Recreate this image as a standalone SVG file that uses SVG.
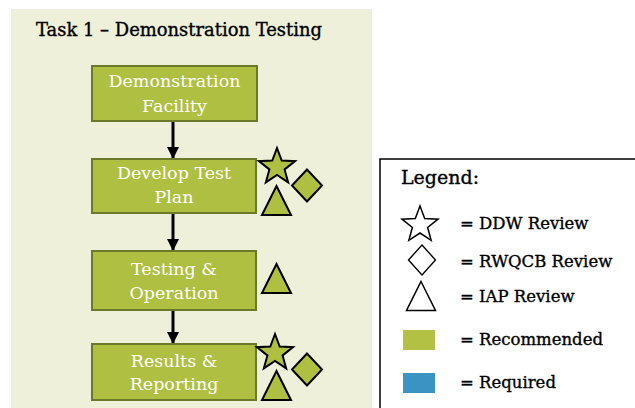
<svg xmlns="http://www.w3.org/2000/svg" width="635" height="408" viewBox="0 0 635 408">
  <style>
    .panel { fill: #EEF0DA; }
    .step rect { fill: #AFBF42; stroke: #6A7A2A; stroke-width: 2; }
    .step text { fill: #FFFFFF; font-family: "DejaVu Serif", "Liberation Serif", serif; font-size: 17.5px; text-anchor: middle; }
    .mark { fill: #AFBF42; stroke: #000000; stroke-width: 2; stroke-linejoin: miter; }
    .key { fill: #FFFFFF; stroke: #000000; stroke-width: 1.5; }
    .title { font-family: "DejaVu Serif", "Liberation Serif", serif; font-size: 18px; fill: #000000; stroke: #000000; stroke-width: 0.35; }
    .legend text { font-family: "DejaVu Serif", "Liberation Serif", serif; font-size: 16.5px; fill: #000000; stroke: #000000; stroke-width: 0.35; }
    .legend text.head { font-size: 19px; }
    .flow line { stroke: #000000; stroke-width: 3; }
  </style>
  <defs>
    <path id="star" d="M0,-19 L4.70,-6.47 L18.07,-5.87 L7.61,2.47 L11.17,15.37 L0,8 L-11.17,15.37 L-7.61,2.47 L-18.07,-5.87 L-4.70,-6.47 Z"/>
    <path id="diamond" d="M0,-16 L15,0 L0,16 L-15,0 Z"/>
    <path id="triangle" d="M0,-14.5 L14.5,14.5 L-14.5,14.5 Z"/>
    <marker id="arrow" viewBox="0 0 10 10" refX="10" refY="5" markerWidth="4" markerHeight="4" orient="auto" markerUnits="strokeWidth">
      <path d="M0,0 L10,5 L0,10 Z" fill="#000000"/>
    </marker>
  </defs>

  <!-- task panel -->
  <rect class="panel" x="11" y="9" width="361" height="400"/>
  <text class="title" x="36" y="36" textLength="286" lengthAdjust="spacingAndGlyphs">Task 1 – Demonstration Testing</text>

  <!-- connectors between steps -->
  <g id="connectors" class="flow">
    <line x1="173" y1="122" x2="173" y2="159" marker-end="url(#arrow)"/>
    <line x1="173" y1="213" x2="173" y2="251" marker-end="url(#arrow)"/>
    <line x1="173" y1="310" x2="173" y2="344" marker-end="url(#arrow)"/>
  </g>

  <!-- process steps -->
  <g id="step-facility" class="step">
    <rect x="92" y="66" width="165" height="55"/>
    <text x="174.5" y="87">Demonstration</text>
    <text x="174.5" y="112">Facility</text>
  </g>
  <g id="step-test-plan" class="step">
    <rect x="92" y="159" width="164" height="54"/>
    <text x="174" y="179">Develop Test</text>
    <text x="174" y="203">Plan</text>
  </g>
  <g id="step-operation" class="step">
    <rect x="92" y="251" width="164" height="59"/>
    <text x="174" y="275">Testing &amp;</text>
    <text x="174" y="299">Operation</text>
  </g>
  <g id="step-reporting" class="step">
    <rect x="92" y="344" width="164" height="56"/>
    <text x="174" y="367">Results &amp;</text>
    <text x="174" y="390">Reporting</text>
  </g>

  <!-- review marks beside steps -->
  <g id="reviews-test-plan">
    <use href="#star" class="mark" x="277" y="167"/>
    <use href="#diamond" class="mark" x="307" y="185.5"/>
    <use href="#triangle" class="mark" x="276.5" y="200.5"/>
  </g>
  <g id="reviews-operation">
    <use href="#triangle" class="mark" x="276.5" y="278.5"/>
  </g>
  <g id="reviews-reporting">
    <use href="#star" class="mark" x="275" y="353"/>
    <use href="#diamond" class="mark" x="307" y="369.5"/>
    <use href="#triangle" class="mark" x="276.5" y="385.5"/>
  </g>

  <!-- legend -->
  <g id="legend" class="legend">
    <rect x="380" y="159" width="262" height="260" fill="#FFFFFF" stroke="#000000" stroke-width="1.5"/>
    <text class="head" x="401" y="184">Legend:</text>
    <use href="#star" class="key" x="420" y="225"/>
    <text x="460" y="229">= DDW Review</text>
    <use href="#diamond" class="key" transform="translate(422,260) scale(0.9,0.94)"/>
    <text x="460" y="267">= RWQCB Review</text>
    <use href="#triangle" class="key" x="421" y="296"/>
    <text x="460" y="302">= IAP Review</text>
    <rect x="403" y="330" width="32" height="20" fill="#B2C044"/>
    <text x="460" y="345">= Recommended</text>
    <rect x="403" y="373" width="32" height="20" fill="#3A93C3"/>
    <text x="460" y="388">= Required</text>
  </g>
</svg>
